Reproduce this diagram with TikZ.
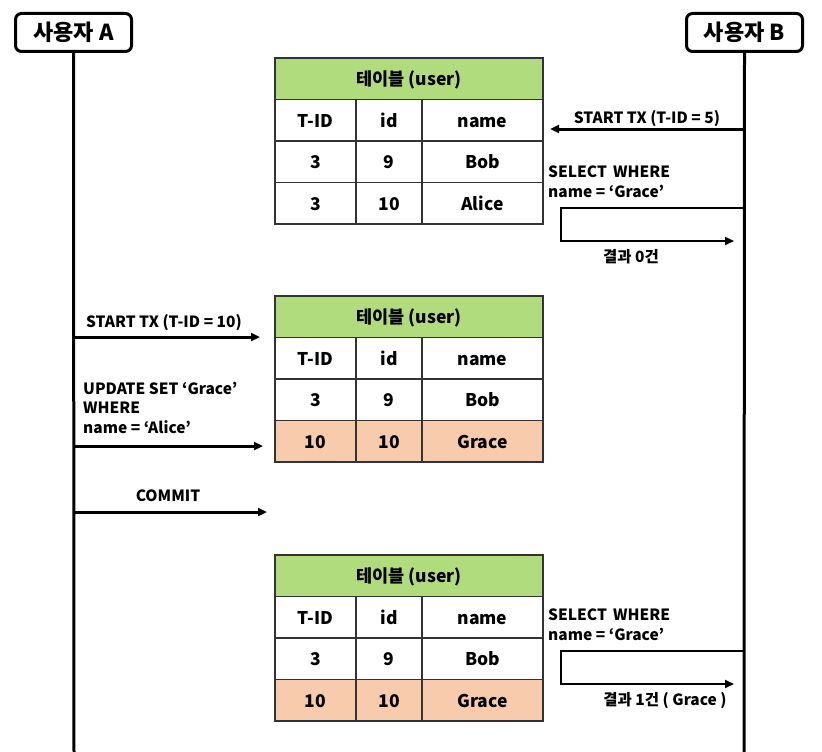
\documentclass[tikz,border=0pt]{standalone}
\usepackage{fontspec}
\setmainfont{Noto Sans CJK KR}
\usetikzlibrary{arrows.meta}
\definecolor{hdrgreen}{RGB}{176,220,126}
\definecolor{rowpeach}{RGB}{248,203,173}
\tikzset{every node/.style={font=\bfseries\fontsize{15.5}{19.5}\selectfont},
  user/.style={draw, line width=3pt, rounded corners=6pt, minimum width=116pt,
    minimum height=38pt, inner sep=0pt, font=\bfseries\fontsize{22}{26}\selectfont},
  cell/.style={draw=black!80, line width=1.5pt, minimum height=41.5pt, inner sep=0pt,
    text height=14pt, text depth=0pt, font=\bfseries\fontsize{17.5}{21}\selectfont},
  hdr/.style={cell, fill=hdrgreen, minimum width=268pt},
  life/.style={line width=3pt},
  msg/.style={line width=3pt, -{Triangle[length=9pt,width=8pt]}},
  back/.style={line width=2pt, -{Triangle[length=9pt,width=8pt]}},
  lbl/.style={inner sep=0pt, align=left}}

\begin{document}
\begin{tikzpicture}[x=1pt, y=-1pt]
    \useasboundingbox (0,0) rectangle (822,752);
    % users and lifelines
    \node[user] (userA) at (73.5,32.5) {사용자 A};
    \node[user] (userB) at (744.5,32.5) {사용자 B};
    \coordinate (endA) at (74,752);
    \coordinate (endB) at (744,752);
    \draw[life] (userA.south) -- (endA);
    \draw[life] (userB.south) -- (endB);
    % tables
    \foreach \k/\top/\tid/\nm/\shade in {1/58/3/Alice/white, 2/296/10/Grace/rowpeach, 3/555/10/Grace/rowpeach} {
      \node[hdr] (hdr\k) at (409,\top+20.75) {테이블 (user)};
      \node[cell, minimum width=81pt] (tid\k) at (315.5,\top+62.25) {T-ID};
      \node[cell, minimum width=66pt] (id\k) at (389,\top+62.25) {id};
      \node[cell, minimum width=121pt] (name\k) at (482.5,\top+62.25) {name};
      \node[cell, minimum width=81pt] (tidb\k) at (315.5,\top+103.75) {3};
      \node[cell, minimum width=66pt] (idb\k) at (389,\top+103.75) {9};
      \node[cell, minimum width=121pt] (nameb\k) at (482.5,\top+103.75) {Bob};
      \node[cell, minimum width=81pt, fill=\shade] (tidc\k) at (315.5,\top+145.25) {\tid};
      \node[cell, minimum width=66pt, fill=\shade] (idc\k) at (389,\top+145.25) {10};
      \node[cell, minimum width=121pt, fill=\shade] (namec\k) at (482.5,\top+145.25) {\nm};
    }
    % user B, first select
    \coordinate (b1) at (744,129);
    \coordinate (b1end) at (550,129);
    \draw[msg] (b1) -- (b1end);
    \node[anchor=base] (startB) at (647,123) {START TX (T-ID = 5)};
    \coordinate (b2) at (744,208);
    \coordinate (b2end) at (734,241);
    \draw[back] (b2) -- (561,208) |- (b2end);
    \node[lbl, anchor=base west] (selB) at (548,197) {SELECT\, WHERE\\name = ‘Grace’};
    \node[anchor=base] (resB) at (631,262) {결과 0건};
    % user A, update and commit
    \coordinate (a1) at (74,337);
    \coordinate (a1end) at (260,337);
    \draw[msg] (a1) -- (a1end);
    \node[anchor=base] (startA) at (164,327) {START TX (T-ID = 10)};
    \coordinate (a2) at (74,446);
    \coordinate (a2end) at (263,446);
    \draw[msg] (a2) -- (a2end);
    \node[lbl, anchor=base west] (updA) at (83,433) {UPDATE SET ‘Grace’\\WHERE\\name = ‘Alice’};
    \coordinate (a3) at (74,512);
    \coordinate (a3end) at (267,512);
    \draw[msg] (a3) -- (a3end);
    \node[anchor=base] (comA) at (168,501) {COMMIT};
    % user B, second select
    \coordinate (b3) at (744,651);
    \coordinate (b3end) at (734,684);
    \draw[back] (b3) -- (561,651) |- (b3end);
    \node[lbl, anchor=base west] (selB2) at (548,640) {SELECT\, WHERE\\name = ‘Grace’};
    \node[anchor=base] (resB2) at (665,705) {결과 1건 ( Grace )};
  \end{tikzpicture}
\end{document}
